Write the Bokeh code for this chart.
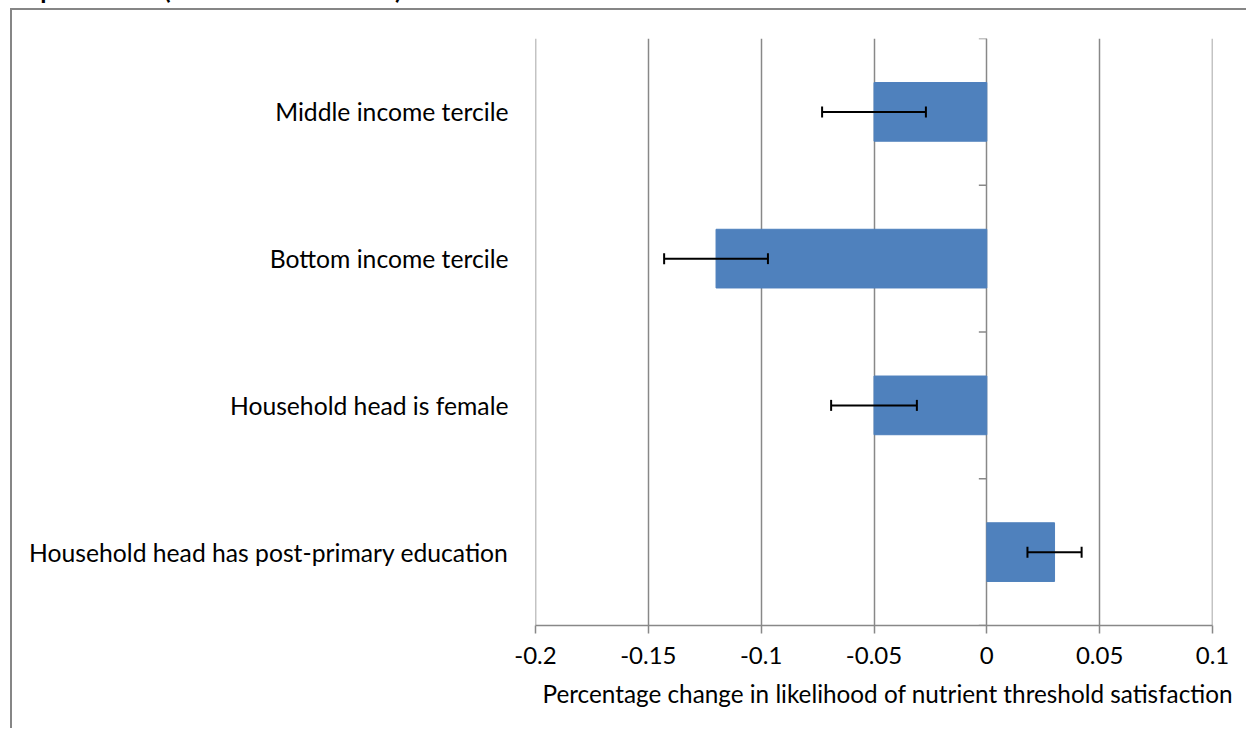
from bokeh.plotting import figure
from bokeh.models import FactorRange, Range1d, FixedTicker, ColumnDataSource, Title, Div
from bokeh.layouts import column
from bokeh.embed import file_html
from bokeh.resources import INLINE
import numpy as np

# ---- data ----
categories = ["Middle income tercile", "Bottom income tercile",
              "Household head is female", "Household head has post-primary education"]
estimates = [-0.05, -0.12, -0.05, 0.03]
std_errors = [0.023, 0.023, 0.019, 0.012]
tick_values = [-0.2, -0.15, -0.1, -0.05, 0.0, 0.05, 0.1]
tick_labels = ["-0.2", "-0.15", "-0.1", "-0.05", "0", "0.05", "0.1"]
title_text = "requirements (with standard errors)"
x_label = "Percentage change in likelihood of nutrient threshold satisfaction"

FONT = "Lato"
GRID = "#888888"
BAR = "#4F81BD"
FS = "24px"
FS_LAB = "24.7px"

src = ColumnDataSource(dict(
    cat=categories,
    est=estimates,
    lo=[e - s for e, s in zip(estimates, std_errors)],
    hi=[e + s for e, s in zip(estimates, std_errors)],
))

W, H = 1236, 720
eps = 1e-9
p = figure(width=W, height=H, output_backend="svg", toolbar_location=None,
           y_range=FactorRange(factors=list(reversed(categories)), range_padding=0,
                               factor_padding=0),
           x_range=Range1d(tick_values[0] - eps, tick_values[-1] + eps),
           min_border_left=523, min_border_right=36, min_border_top=28,
           min_border_bottom=105,
           styles={"border-left": "2px solid #868686", "border-top": "2px solid #868686",
                   "margin-left": "10px"})
p.outline_line_color = None
p.background_fill_color = "white"
p.border_fill_color = "white"

# bars
p.hbar(y="cat", left=0, right="est", height=0.4, source=src,
       fill_color=BAR, line_color=BAR)

# error bars (drawn above bars)
p.segment(x0="lo", y0="cat", x1="hi", y1="cat", source=src,
          line_color="black", line_width=2)
p.scatter(x="lo", y="cat", source=src, marker="dash", angle=np.pi / 2, size=11,
          line_color="black", line_width=2)
p.scatter(x="hi", y="cat", source=src, marker="dash", angle=np.pi / 2, size=11,
          line_color="black", line_width=2)

# category-axis tick marks on the zero line at category boundaries
bounds = [(c, 0.5) for c in categories] + [(categories[-1], -0.5)]
p.ray(x=[0] * len(bounds), y=bounds, length=8, length_units="screen",
      angle=np.pi, line_color=GRID, line_width=1.5)

# x axis
ticker = FixedTicker(ticks=tick_values)
xa = p.xaxis[0]
xa.ticker = ticker
xa.major_label_overrides = dict(zip(tick_values, tick_labels))
xa.axis_line_color = GRID
xa.axis_line_width = 1.5
xa.major_tick_line_color = GRID
xa.major_tick_line_width = 1.5
xa.major_tick_out = 8
xa.major_tick_in = 0
xa.minor_tick_line_color = None
xa.major_label_text_font = FONT
xa.major_label_text_font_size = FS
xa.major_label_text_color = "black"
xa.major_label_standoff = 13

p.xgrid.ticker = ticker
p.xgrid.grid_line_color = GRID
p.xgrid.grid_line_width = 1.5
p.ygrid.grid_line_color = None

# y axis (category labels)
ya = p.yaxis[0]
ya.axis_line_color = None
ya.major_tick_line_color = None
ya.minor_tick_line_color = None
ya.major_label_standoff = 21
ya.major_label_text_font = FONT
ya.major_label_text_font_size = FS_LAB
ya.major_label_text_color = "black"

# x axis title, left-aligned slightly right of frame start (as in Excel)
t = Title(text=x_label, align="left", offset=7, text_font=FONT,
          text_font_size="24.3px", text_font_style="normal", text_color="black",
          standoff=21)
p.add_layout(t, "below")

div = Div(text=title_text, width=600, height=26,
          styles={"font-family": FONT, "font-weight": "bold", "font-size": "25px",
                  "line-height": "25px", "margin-top": "-23px", "margin-left": "10px",
                  "color": "black", "white-space": "nowrap"})

layout = column(div, p, spacing=0)
open("out.html", "w").write(file_html(layout, INLINE))
